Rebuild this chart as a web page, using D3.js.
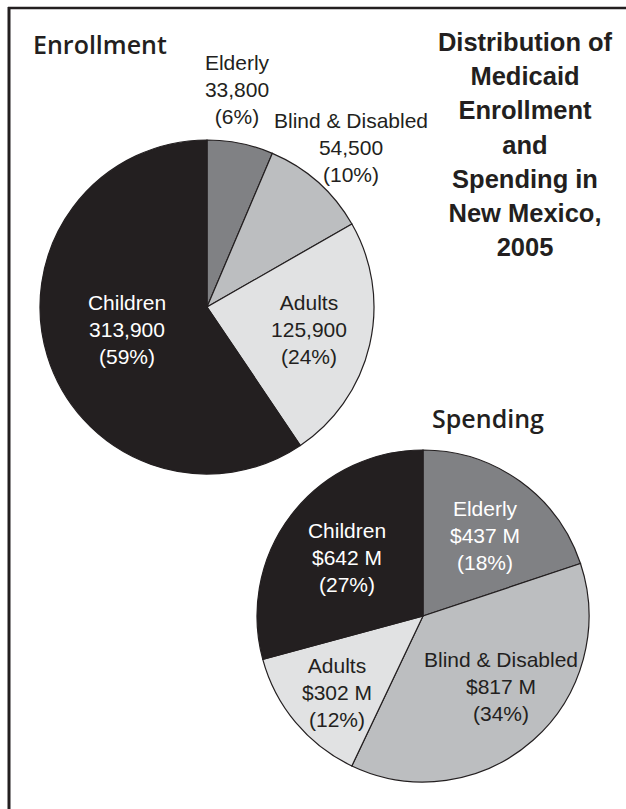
<!DOCTYPE html>
<html>
<head>
<meta charset="utf-8">
<script src="https://cdn.jsdelivr.net/npm/d3@7"></script>
<style>
  body { margin: 0; background: #fff; }
  svg { display: block; }
</style>
</head>
<body>
<script>
const categories = ['Elderly', 'Blind & Disabled', 'Adults', 'Children']
const enrollValues = [33800, 54500, 125900, 313900]
const enrollLabels = ['33,800', '54,500', '125,900', '313,900']
const enrollPercents = ['(6%)', '(10%)', '(24%)', '(59%)']
const spendValues = [437, 817, 302, 642]
const spendLabels = ['$437 M', '$817 M', '$302 M', '$642 M']
const spendPercents = ['(18%)', '(34%)', '(12%)', '(27%)']
const titleLines = ['Distribution of', 'Medicaid', 'Enrollment', 'and', 'Spending in', 'New Mexico,', '2005']

const w = 626
const h = 809

const colorScale = d3.scaleOrdinal()
    .domain(categories)
    .range(['#808184', '#bcbec0', '#e1e2e3', '#231f20'])

const svg = d3.select('body').append('svg')
    .attr('width', w)
    .attr('height', h)

// frame (only top and left edges show in the picture)
svg.append('line')
    .attr('x1', 8).attr('y1', 8).attr('x2', w).attr('y2', 8)
    .attr('stroke', '#231f20').attr('stroke-width', 2.5)
svg.append('line')
    .attr('x1', 9).attr('y1', 7).attr('x2', 9).attr('y2', h)
    .attr('stroke', '#231f20').attr('stroke-width', 3)

const pie = d3.pie().sort(null).value(d => d.value)

const drawPie = (values, cx, cy, r) => {
    const data = categories.map((c, i) => ({ category: c, value: values[i] }))
    const arc = d3.arc().innerRadius(0).outerRadius(r)
    const g = svg.append('g').attr('transform', `translate(${cx}, ${cy})`)
    g.selectAll('path')
        .data(pie(data))
        .enter()
        .append('path')
        .attr('d', arc)
        .attr('fill', d => colorScale(d.data.category))
        .attr('stroke', '#231f20')
        .attr('stroke-width', 1.2)
}

drawPie(enrollValues, 207, 307, 167)
drawPie(spendValues, 423, 616, 166)

// slice labels: [x, y of first line, colour]
const enrollPos = [[237, 62, '#231f20'], [351, 120, '#231f20'], [309, 302, '#231f20'], [127, 302, '#ffffff']]
const spendPos = [[485, 508, '#ffffff'], [501, 659, '#231f20'], [337, 665, '#231f20'], [347, 530, '#ffffff']]

const drawLabels = (pos, valueLabels, percents) => {
    categories.forEach((c, i) => {
        const t = svg.append('text')
            .attr('x', pos[i][0])
            .attr('y', pos[i][1])
            .attr('text-anchor', 'middle')
            .attr('dominant-baseline', 'central')
            .attr('fill', pos[i][2])
            .style('font-family', '"Liberation Sans", Arial, sans-serif')
            .style('font-size', '21px')
        ;[c, valueLabels[i], percents[i]].forEach((line, j) => {
            t.append('tspan')
                .attr('x', pos[i][0])
                .attr('y', pos[i][1] + j * 27)
                .text(line)
        })
    })
}

drawLabels(enrollPos, enrollLabels, enrollPercents)
drawLabels(spendPos, spendLabels, spendPercents)

// pie titles
svg.append('text')
    .attr('x', 33).attr('y', 44)
    .attr('dominant-baseline', 'central')
    .attr('fill', '#231f20')
    .style('font-family', '"Open Sans", sans-serif')
    .style('font-weight', 600)
    .style('font-size', '25px')
    .text('Enrollment')

svg.append('text')
    .attr('x', 488).attr('y', 418)
    .attr('text-anchor', 'middle')
    .attr('dominant-baseline', 'central')
    .attr('fill', '#231f20')
    .style('font-family', '"Open Sans", sans-serif')
    .style('font-weight', 600)
    .style('font-size', '25px')
    .text('Spending')

// main title
svg.append('g').selectAll('text')
    .data(titleLines)
    .enter()
    .append('text')
    .attr('x', 525)
    .attr('y', (d, i) => 42 + i * 34.2)
    .attr('text-anchor', 'middle')
    .attr('dominant-baseline', 'central')
    .attr('fill', '#231f20')
    .style('font-family', '"Liberation Sans", Arial, sans-serif')
    .style('font-weight', 'bold')
    .style('font-size', '25.5px')
    .text(d => d)
</script>
</body>
</html>
